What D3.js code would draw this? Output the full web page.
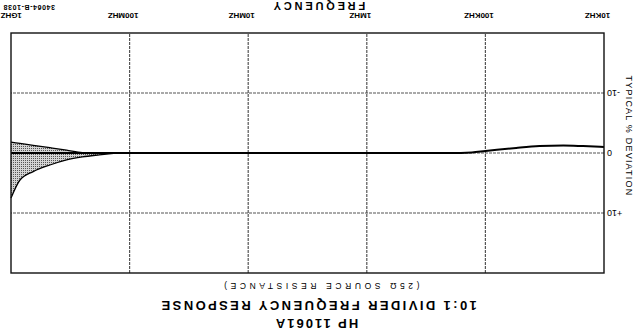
<!DOCTYPE html>
<html>
<head>
<meta charset="utf-8">
<script src="https://cdn.jsdelivr.net/npm/d3@7"></script>
<style>
  body { margin: 0; background: #fff; }
</style>
</head>
<body>
<div id="canvas"></div>
<script>
var w = 636;
var h = 331;

// frequency axis
var freqTicks = [1e4, 1e5, 1e6, 1e7, 1e8, 1e9];
var freqLabels = ["10KHZ", "100KHZ", "1MHZ", "10MHZ", "100MHZ", "1GHZ"];

// deviation axis
var devTicks = [-10, 0, 10];
var devLabels = ["-10", "0", "+10"];

// shaded envelope near 1 GHz (% deviation)
var envFreq = [1.3e8, 1.8e8, 2.5e8, 3.4e8, 4.7e8, 6.5e8, 8.4e8, 1e9];
var envHigh = [0, 0.3, 0.65, 1.15, 2.0, 3.1, 4.5, 7.5];
var envLow = [0, 0, -0.05, -0.47, -0.88, -1.28, -1.59, -1.8];

// typical response trace
var traceFreq = [1e4, 1.5e4, 2.2e4, 3.5e4, 5.5e4, 8e4, 1e5, 1.3e5, 2e5, 1e6, 1e7, 1e8, 1e9];
var traceDev = [-1.0, -1.15, -1.25, -1.15, -0.85, -0.55, -0.35, -0.1, 0, 0, 0, 0, 0];

// plot frame (window.top is reserved, so different names)
var plotLeft = 32, plotRight = 625, plotTop = 58, plotBottom = 298;

var svg = d3.select("#canvas")
    .append("svg")
    .attr("width", w)
    .attr("height", h)
    .style("background-color", "white");

// stipple for the spread band
var pat = svg.append("defs").append("pattern")
    .attr("id", "stipple")
    .attr("width", 2)
    .attr("height", 2)
    .attr("patternUnits", "userSpaceOnUse");
pat.append("rect").attr("width", 2).attr("height", 2).attr("fill", "#d4d4d4");
pat.append("rect").attr("width", 1).attr("height", 1).attr("fill", "#555");

// the scanned sheet is upside down, so draw it normally and turn it round
var g = svg.append("g")
    .attr("transform", "rotate(180 " + (w / 2) + " " + (h / 2) + ")");

var x = d3.scaleLog()
    .domain([1e4, 1e9])
    .range([plotLeft, plotRight]);

var y = d3.scaleLinear()
    .domain([-20, 20])
    .range([plotBottom, plotTop]);

// grid
g.selectAll(".vgrid")
    .data(freqTicks.slice(1, -1))
    .join("line")
    .attr("class", "vgrid")
    .attr("x1", function (d) { return x(d); })
    .attr("x2", function (d) { return x(d); })
    .attr("y1", plotTop)
    .attr("y2", plotBottom)
    .attr("stroke", "#555")
    .attr("stroke-width", 1.2)
    .attr("stroke-dasharray", "3,1");

g.selectAll(".hgrid")
    .data(devTicks)
    .join("line")
    .attr("class", "hgrid")
    .attr("x1", plotLeft)
    .attr("x2", plotRight)
    .attr("y1", function (d) { return y(d); })
    .attr("y2", function (d) { return y(d); })
    .attr("stroke", "#555")
    .attr("stroke-width", 1.2)
    .attr("stroke-dasharray", "3,1");

// envelope
var area = d3.area()
    .x(function (d, i) { return x(envFreq[i]); })
    .y0(function (d, i) { return y(envLow[i]); })
    .y1(function (d, i) { return y(envHigh[i]); })
    .curve(d3.curveMonotoneX);

g.append("path")
    .datum(envFreq)
    .attr("d", area)
    .attr("fill", "url(#stipple)")
    .attr("stroke", "none");

var hiLine = d3.line()
    .x(function (d, i) { return x(envFreq[i]); })
    .y(function (d, i) { return y(envHigh[i]); })
    .curve(d3.curveMonotoneX);
var loLine = d3.line()
    .x(function (d, i) { return x(envFreq[i]); })
    .y(function (d, i) { return y(envLow[i]); })
    .curve(d3.curveMonotoneX);

g.append("path").datum(envFreq).attr("d", hiLine)
    .attr("fill", "none").attr("stroke", "#000").attr("stroke-width", 1.3);
g.append("path").datum(envFreq).attr("d", loLine)
    .attr("fill", "none").attr("stroke", "#000").attr("stroke-width", 1.3);

// trace
var trace = d3.line()
    .x(function (d, i) { return x(traceFreq[i]); })
    .y(function (d, i) { return y(traceDev[i]); })
    .curve(d3.curveMonotoneX);

g.append("path")
    .datum(traceFreq)
    .attr("d", trace)
    .attr("fill", "none")
    .attr("stroke", "#000")
    .attr("stroke-width", 2);

// frame
g.append("rect")
    .attr("x", plotLeft)
    .attr("y", plotTop)
    .attr("width", plotRight - plotLeft)
    .attr("height", plotBottom - plotTop)
    .attr("fill", "none")
    .attr("stroke", "#111")
    .attr("stroke-width", 1.4);

// axes
var xAxis = d3.axisBottom(x)
    .tickValues(freqTicks)
    .tickFormat(function (d, i) { return freqLabels[i]; })
    .tickSize(0)
    .tickPadding(14);

var xg = g.append("g")
    .attr("transform", "translate(6," + plotBottom + ")")
    .call(xAxis);
xg.select(".domain").remove();
xg.selectAll("text")
    .attr("font-family", "Liberation Sans, Arial, sans-serif")
    .attr("font-size", "8px")
    .attr("font-weight", "bold")
    .attr("fill", "#000");
// last label runs to the sheet edge
xg.selectAll(".tick text")
    .filter(function (d) { return d === 1e9; })
    .attr("text-anchor", "end")
    .attr("x", w - 1 - x(1e9) - 6);

var yAxis = d3.axisLeft(y)
    .tickValues(devTicks)
    .tickFormat(function (d, i) { return devLabels[i]; })
    .tickSize(0)
    .tickPadding(3);

var yg = g.append("g")
    .attr("transform", "translate(" + plotLeft + ",0)")
    .call(yAxis);
yg.select(".domain").remove();
yg.selectAll("text")
    .attr("font-family", "Liberation Sans, Arial, sans-serif")
    .attr("font-size", "9px")
    .attr("fill", "#000");

function addText(px, py, text, size, weight, spacing) {
    return g.append("text")
        .attr("x", px)
        .attr("y", py)
        .text(text)
        .attr("font-family", "Liberation Sans, Arial, sans-serif")
        .attr("font-size", size)
        .attr("font-weight", weight)
        .attr("letter-spacing", spacing)
        .attr("text-anchor", "middle")
        .attr("dominant-baseline", "middle")
        .attr("fill", "#000");
}

addText(320, 9, "HP 11061A", "13px", "bold", "2px");
addText(318, 27, "10:1 DIVIDER FREQUENCY RESPONSE", "13px", "bold", "2.4px");
addText(316, 46, "(25\u03A9 SOURCE RESISTANCE)", "8.5px", "normal", "3.6px");
addText(318, 326, "FREQUENCY", "11px", "bold", "2.8px");
addText(607, 324, "34064-B-1038", "7px", "bold", "0.6px");

g.append("text")
    .attr("transform", "translate(8,195) rotate(-90)")
    .text("TYPICAL % DEVIATION")
    .attr("font-family", "Liberation Sans, Arial, sans-serif")
    .attr("font-size", "9px")
    .attr("letter-spacing", "1.2px")
    .attr("text-anchor", "middle")
    .attr("dominant-baseline", "middle")
    .attr("fill", "#000");
</script>
</body>
</html>
